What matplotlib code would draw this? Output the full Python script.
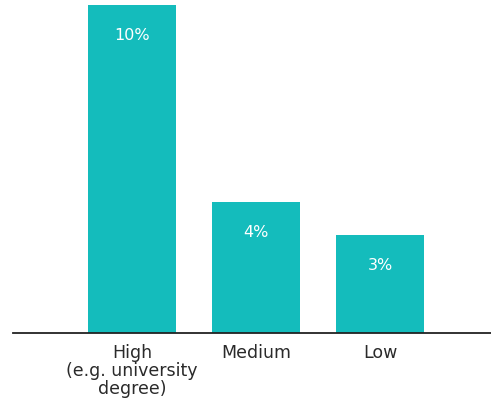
import matplotlib
matplotlib.use("Agg")
import matplotlib.pyplot as plt

categories = ["High\n(e.g. university\ndegree)", "Medium", "Low"]
values = [10, 4, 3]
labels = ["10%", "4%", "3%"]

W, H = 491, 406
fig = plt.figure(figsize=(W / 100, H / 100), dpi=100)
ax = fig.add_axes([13 / W, (406 - 334) / H, 1 - 13 / W, (334 - 6) / H])

color = "#14BCBC"
x = list(range(len(categories)))
ax.bar(x, values, width=88 / 124, color=color)
ax.set_xlim((13 - 132) / 124, (491 - 132) / 124)
ax.set_ylim(0, 10)

for xi, v, lab in zip(x, values, labels):
    ax.annotate(lab, (xi, v), xytext=(0, -30), textcoords="offset pixels",
                ha="center", va="center", color="white", fontsize=11.5,
                family="DejaVu Sans")

ax.set_xticks(x)
ax.set_xticklabels(categories, fontsize=12.5, family="DejaVu Sans", color="#2a2a2a",
                   linespacing=1.0)
ax.tick_params(axis="x", length=0, pad=7)
ax.set_yticks([])
for s in ["top", "right", "left"]:
    ax.spines[s].set_visible(False)
ax.spines["bottom"].set_color("#222222")
ax.spines["bottom"].set_linewidth(1.3)

fig.savefig("out.png", dpi=100)
